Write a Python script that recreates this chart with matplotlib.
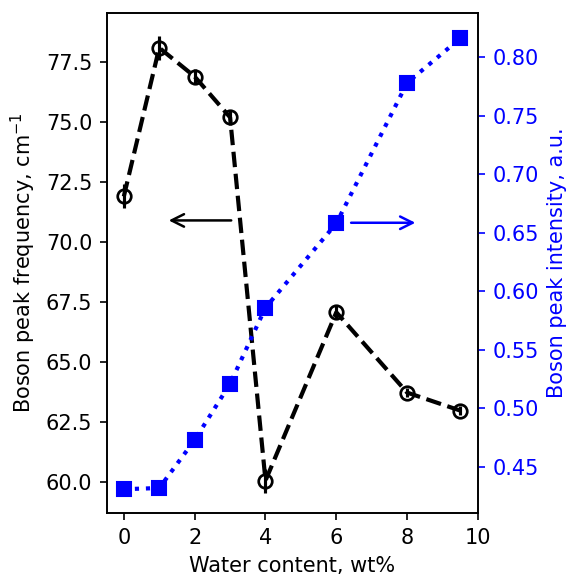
import matplotlib
matplotlib.use("Agg")
import matplotlib.pyplot as plt

# water content (wt%)
water = [0, 1, 2, 3, 4, 6, 8, 9.5]

# boson peak position, cm^-1, with uncertainties
bp_freq = [71.9, 78.1, 76.9, 75.2, 60.05, 67.07, 63.72, 62.97]
bp_freq_err = [0.5, 0.5, 0.3, 0.3, 0.5, 0.25, 0.2, 0.2]

# boson peak intensity, a.u.
bp_int = [0.431, 0.432, 0.473, 0.521, 0.586, 0.658, 0.778, 0.816]

fig = plt.figure(figsize=(571 / 150, 578 / 150), dpi=150)
ax = fig.add_axes([0.1874, 0.1125, 0.6497, 0.865])

ax.errorbar(water, bp_freq, yerr=bp_freq_err, fmt="o--", color="black",
            mfc="none", ms=6.5, mew=1.3, lw=2, elinewidth=1.5, capsize=0)
ax.set_xlabel("Water content, wt%")
ax.set_ylabel("Boson peak frequency, cm$^{-1}$")
ax.set_xticks([0, 2, 4, 6, 8, 10])
ax.set_xlim(-0.475, 10)
ax.set_ylim(58.7, 79.55)
ax.annotate("", xy=(1.15, 70.9), xytext=(3.15, 70.9),
            arrowprops=dict(arrowstyle="->", color="black", lw=1.2,
                            mutation_scale=15))

ax2 = ax.twinx()
ax2.plot(water, bp_int, "s:", color="blue", ms=7, lw=2)
ax2.set_ylim(0.4107, 0.8376)
ax2.set_ylabel("Boson peak intensity, a.u.", color="blue")
ax2.tick_params(axis="y", colors="blue")
ax2.annotate("", xy=(8.35, 0.6585), xytext=(6.3, 0.6585),
             arrowprops=dict(arrowstyle="->", color="blue", lw=1.2,
                             mutation_scale=15))

fig.savefig("out.png", dpi=150)
